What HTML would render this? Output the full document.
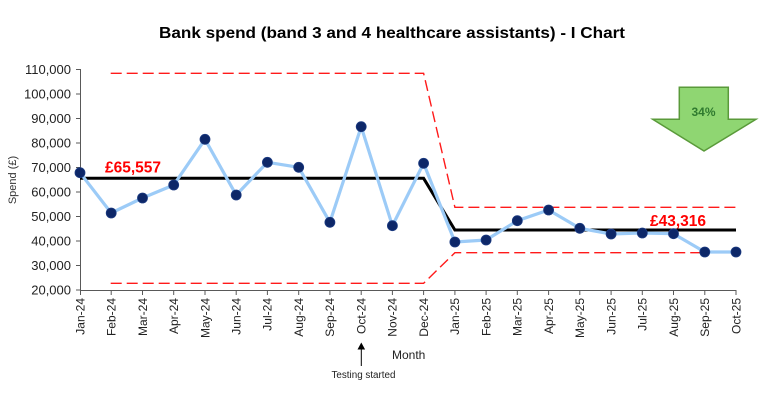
<!DOCTYPE html>
<html>
<head>
<meta charset="utf-8">
<style>
html,body{margin:0;padding:0;background:#fff;}
svg{display:block;}
text{font-family:"Liberation Sans",Arial,sans-serif;}
</style>
</head>
<body>
<svg width="768" height="405" viewBox="0 0 768 405" xmlns="http://www.w3.org/2000/svg">
<rect width="768" height="405" fill="#fff"/>
<!-- Title -->
<text x="392" y="38" font-size="16" font-weight="bold" text-anchor="middle" fill="#000" textLength="466" lengthAdjust="spacingAndGlyphs">Bank spend (band 3 and 4 healthcare assistants) - I Chart</text>

<!-- Axes -->
<g stroke="#595959" stroke-width="1" fill="none">
<line x1="80.5" y1="69" x2="80.5" y2="290.5"/>
<line x1="80" y1="290.5" x2="736.5" y2="290.5"/>
</g>
<!-- y ticks -->
<g stroke="#595959" stroke-width="1">
<line x1="76" y1="69.5" x2="80" y2="69.5"/>
<line x1="76" y1="94" x2="80" y2="94"/>
<line x1="76" y1="118.5" x2="80" y2="118.5"/>
<line x1="76" y1="143" x2="80" y2="143"/>
<line x1="76" y1="167.5" x2="80" y2="167.5"/>
<line x1="76" y1="192" x2="80" y2="192"/>
<line x1="76" y1="216.5" x2="80" y2="216.5"/>
<line x1="76" y1="241" x2="80" y2="241"/>
<line x1="76" y1="265.5" x2="80" y2="265.5"/>
<line x1="76" y1="290" x2="80" y2="290"/>
</g>
<g font-size="13" fill="#222" text-anchor="end">
<text x="71" y="74">110,000</text>
<text x="71" y="98.5">100,000</text>
<text x="71" y="123">90,000</text>
<text x="71" y="147.5">80,000</text>
<text x="71" y="172">70,000</text>
<text x="71" y="196.5">60,000</text>
<text x="71" y="221">50,000</text>
<text x="71" y="245.5">40,000</text>
<text x="71" y="270">30,000</text>
<text x="71" y="294.5">20,000</text>
</g>
<text transform="translate(16,180) rotate(-90)" font-size="11" fill="#333" text-anchor="middle">Spend (£)</text>

<!-- x ticks -->
<g stroke="#595959" stroke-width="1">
<line x1="80.5" y1="290" x2="80.5" y2="295"/>
<line x1="111.2" y1="290" x2="111.2" y2="295"/>
<line x1="142.5" y1="290" x2="142.5" y2="295"/>
<line x1="173.7" y1="290" x2="173.7" y2="295"/>
<line x1="205" y1="290" x2="205" y2="295"/>
<line x1="236.2" y1="290" x2="236.2" y2="295"/>
<line x1="267.4" y1="290" x2="267.4" y2="295"/>
<line x1="298.7" y1="290" x2="298.7" y2="295"/>
<line x1="329.9" y1="290" x2="329.9" y2="295"/>
<line x1="361.2" y1="290" x2="361.2" y2="295"/>
<line x1="392.4" y1="290" x2="392.4" y2="295"/>
<line x1="423.6" y1="290" x2="423.6" y2="295"/>
<line x1="454.9" y1="290" x2="454.9" y2="295"/>
<line x1="486.1" y1="290" x2="486.1" y2="295"/>
<line x1="517.3" y1="290" x2="517.3" y2="295"/>
<line x1="548.6" y1="290" x2="548.6" y2="295"/>
<line x1="579.8" y1="290" x2="579.8" y2="295"/>
<line x1="611.1" y1="290" x2="611.1" y2="295"/>
<line x1="642.3" y1="290" x2="642.3" y2="295"/>
<line x1="673.5" y1="290" x2="673.5" y2="295"/>
<line x1="704.8" y1="290" x2="704.8" y2="295"/>
<line x1="736" y1="290" x2="736" y2="295"/>
</g>
<g font-size="12" fill="#222" text-anchor="end">
<text transform="translate(84.5,298) rotate(-90)">Jan-24</text>
<text transform="translate(115.5,298) rotate(-90)">Feb-24</text>
<text transform="translate(146.8,298) rotate(-90)">Mar-24</text>
<text transform="translate(178,298) rotate(-90)">Apr-24</text>
<text transform="translate(209.3,298) rotate(-90)">May-24</text>
<text transform="translate(240.5,298) rotate(-90)">Jun-24</text>
<text transform="translate(271.7,298) rotate(-90)">Jul-24</text>
<text transform="translate(303,298) rotate(-90)">Aug-24</text>
<text transform="translate(334.2,298) rotate(-90)">Sep-24</text>
<text transform="translate(365.5,298) rotate(-90)">Oct-24</text>
<text transform="translate(396.7,298) rotate(-90)">Nov-24</text>
<text transform="translate(427.9,298) rotate(-90)">Dec-24</text>
<text transform="translate(459.2,298) rotate(-90)">Jan-25</text>
<text transform="translate(490.4,298) rotate(-90)">Feb-25</text>
<text transform="translate(521.6,298) rotate(-90)">Mar-25</text>
<text transform="translate(552.9,298) rotate(-90)">Apr-25</text>
<text transform="translate(584.1,298) rotate(-90)">May-25</text>
<text transform="translate(615.4,298) rotate(-90)">Jun-25</text>
<text transform="translate(646.6,298) rotate(-90)">Jul-25</text>
<text transform="translate(677.8,298) rotate(-90)">Aug-25</text>
<text transform="translate(709.1,298) rotate(-90)">Sep-25</text>
<text transform="translate(740.3,298) rotate(-90)">Oct-25</text>
</g>
<text x="392" y="359" font-size="12" fill="#222">Month</text>

<!-- Testing started annotation -->
<line x1="361.3" y1="348" x2="361.3" y2="366" stroke="#000" stroke-width="1"/>
<polygon points="361.3,342.5 357.5,349.5 365.1,349.5" fill="#000"/>
<text x="331.5" y="378" font-size="10" fill="#222" textLength="64" lengthAdjust="spacingAndGlyphs">Testing started</text>

<!-- Control limits -->
<g stroke="#FF1A1A" stroke-width="1.4" fill="none" stroke-dasharray="11,5">
<polyline points="110.7,73.3 423.6,73.3 454.9,207.3 736,207.3"/>
<polyline points="110.7,283.3 423.6,283.3 454.9,252.7 736,252.7"/>
</g>

<!-- Mean -->
<polyline points="80,178.3 423.6,178.3 454.9,230 736,230" fill="none" stroke="#000" stroke-width="3"/>

<!-- Data line -->
<polyline fill="none" stroke="#9CCBF7" stroke-width="3.2" stroke-linejoin="round"
points="80,172.7 111.2,213 142.5,198 173.7,185 205,139.3 236.2,195 267.4,162.3 298.7,167.3 329.9,222.3 361.2,126.7 392.4,225.7 423.6,163.3 454.9,242 486.1,240 517.3,220.7 548.6,210 579.8,228.3 611.1,234 642.3,233 673.5,233.7 704.8,252 736,252"/>
<g fill="#0D2768" stroke="#1B3A80" stroke-width="0.8">
<circle cx="80" cy="172.7" r="5"/>
<circle cx="111.2" cy="213" r="5"/>
<circle cx="142.5" cy="198" r="5"/>
<circle cx="173.7" cy="185" r="5"/>
<circle cx="205" cy="139.3" r="5"/>
<circle cx="236.2" cy="195" r="5"/>
<circle cx="267.4" cy="162.3" r="5"/>
<circle cx="298.7" cy="167.3" r="5"/>
<circle cx="329.9" cy="222.3" r="5"/>
<circle cx="361.2" cy="126.7" r="5"/>
<circle cx="392.4" cy="225.7" r="5"/>
<circle cx="423.6" cy="163.3" r="5"/>
<circle cx="454.9" cy="242" r="5"/>
<circle cx="486.1" cy="240" r="5"/>
<circle cx="517.3" cy="220.7" r="5"/>
<circle cx="548.6" cy="210" r="5"/>
<circle cx="579.8" cy="228.3" r="5"/>
<circle cx="611.1" cy="234" r="5"/>
<circle cx="642.3" cy="233" r="5"/>
<circle cx="673.5" cy="233.7" r="5"/>
<circle cx="704.8" cy="252" r="5"/>
<circle cx="736" cy="252" r="5"/>
</g>

<!-- Mean labels -->
<text x="105" y="172.5" font-size="15.5" font-weight="bold" fill="#FF0000">£65,557</text>
<text x="650" y="226" font-size="15.5" font-weight="bold" fill="#FF0000">£43,316</text>

<!-- Green arrow -->
<polygon points="679.3,87.3 728.3,87.3 728.3,119.3 756,119.3 704,151 652.7,119.3 679.3,119.3" fill="#8FD672" stroke="#5A9A3A" stroke-width="1.5" stroke-linejoin="miter"/>
<text x="703.5" y="116" font-size="12" font-weight="bold" fill="#2F7A2F" text-anchor="middle">34%</text>
</svg>
</body>
</html>
